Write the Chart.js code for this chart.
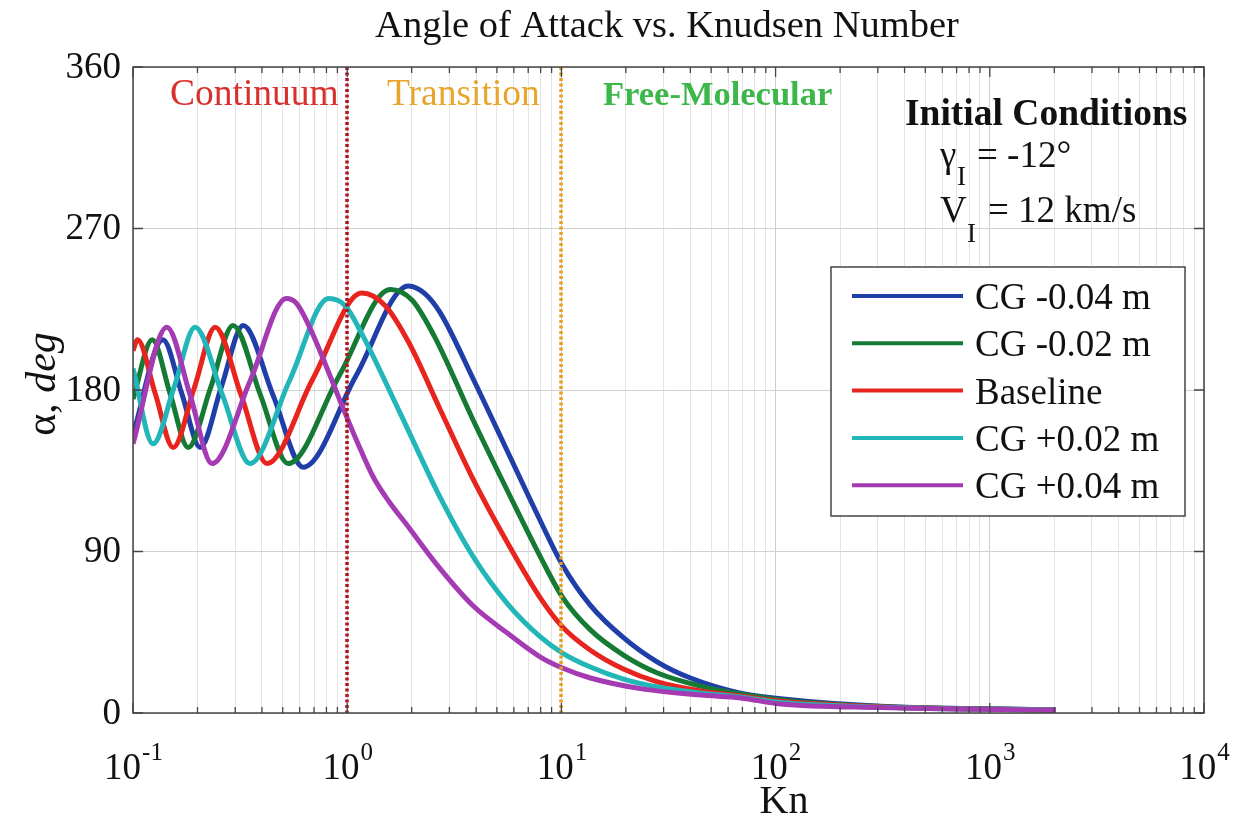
<!DOCTYPE html>
<html>
<head>
<meta charset="utf-8">
<title>Angle of Attack vs. Knudsen Number</title>
<script src="https://cdn.jsdelivr.net/npm/chart.js@4.4.1/dist/chart.umd.min.js"></script>
<style>
  html, body { margin: 0; padding: 0; background: #fff; }
  canvas { display: block; }
</style>
</head>
<body>
<canvas id="aoaChart" width="1239" height="823"></canvas>
<script>
// values: Knudsen number (x) and angle of attack in deg (y)
const knBlue = [0.1, 0.138, 0.169, 0.206, 0.259, 0.327, 0.451, 0.623, 1.10, 1.93, 2.29, 2.72, 3.88, 5.59, 7.98, 10.11, 13.66, 19.49, 28.09, 40.07, 68.6, 105.5, 310, 2034];
const alphaBlue = [155, 208, 178, 148, 182, 216, 177, 137, 188, 238, 234, 223, 186, 146, 107, 82.5, 60, 42, 28.4, 19.5, 11.1, 8.0, 3.8, 1.7];

const knGreen = [0.1, 0.123, 0.149, 0.181, 0.230, 0.293, 0.394, 0.530, 0.918, 1.59, 2.01, 2.55, 3.88, 5.59, 7.98, 10.11, 13.66, 19.49, 28.09, 44.62, 68.6, 105.5, 310, 2034];
const alphaGreen = [175, 208, 178, 148, 181, 216, 177, 139, 188, 236, 230, 210, 163, 124, 87, 64.6, 46.3, 32.3, 22.3, 15.0, 10.6, 7.3, 3.6, 1.7];

const knRed = [0.1, 0.105, 0.127, 0.154, 0.193, 0.242, 0.320, 0.422, 0.69, 1.17, 1.505, 1.928, 2.72, 3.88, 5.59, 7.98, 10.11, 13.66, 19.49, 28.09, 44.62, 68.6, 105.5, 310, 2034];
const alphaRed = [202, 208, 178, 148, 181, 215, 177, 139, 186, 234, 227, 207, 169, 130, 95, 64, 48, 35, 24.5, 17.3, 12.3, 9.5, 6.5, 3.4, 1.6];

const knCyan = [0.1, 0.124, 0.156, 0.195, 0.262, 0.352, 0.537, 0.82, 0.979, 1.163, 1.769, 2.72, 3.88, 5.59, 7.98, 10.11, 13.66, 19.49, 28.09, 44.62, 68.6, 105.5, 310, 2034];
const alphaCyan = [192, 150, 182, 215, 177, 139, 185, 231, 227, 212, 167, 120, 87, 61, 42.4, 33.4, 25.6, 18.9, 14.5, 11.1, 8.9, 5.8, 3.2, 1.6];

const knPurple = [0.1, 0.144, 0.185, 0.234, 0.352, 0.52, 0.578, 0.650, 0.979, 1.114, 1.323, 1.572, 1.866, 2.72, 3.88, 5.59, 7.98, 10.11, 13.66, 23.39, 44.62, 68.6, 105.5, 310, 2034];
const alphaPurple = [150, 215, 177, 139, 185, 231, 228.5, 218, 167, 151, 131.5, 117.6, 106, 80.3, 59.6, 44.6, 31.2, 25.1, 19.5, 13.6, 10.0, 8.4, 5.0, 3.0, 1.5];

const seriesLabels = ["CG -0.04 m", "CG -0.02 m", "Baseline", "CG +0.02 m", "CG +0.04 m"];
const seriesColors = ["#1f3ea8", "#157a34", "#e8241f", "#22b6b9", "#a53bb2"];

const regimeBounds = [1, 10];
const regimeNames = ["Continuum", "Transition", "Free-Molecular"];

const xDecades = [-1, 0, 1, 2, 3, 4];
const yTicks = [0, 90, 180, 270, 360];

const SERIF = '"Liberation Serif", "Times New Roman", serif';

// grid lines at 1..9 x 10^d
const xGridValues = [];
xDecades.forEach((d) => {
  for (let m = 1; m <= 9; m++) {
    if (d === 4 && m > 1) break;
    xGridValues.push(m * Math.pow(10, d));
  }
});
function isDecade(v) {
  const l = Math.log10(v);
  return Math.abs(l - Math.round(l)) < 1e-9;
}

const allKn = [knBlue, knGreen, knRed, knCyan, knPurple];
const allAlpha = [alphaBlue, alphaGreen, alphaRed, alphaCyan, alphaPurple];

const datasets = seriesLabels.map((label, i) => ({
  label,
  data: allKn[i].map((k, j) => ({ x: k, y: allAlpha[i][j] })),
  borderColor: seriesColors[i],
  backgroundColor: seriesColors[i],
  borderWidth: 5,
  pointRadius: 0,
  fill: false,
  cubicInterpolationMode: "monotone",
  order: seriesLabels.length - i, // matlab draws the last series on top
}));

function txt(c, s, x, y, font, color, align) {
  c.font = font;
  c.fillStyle = color || "#111";
  c.textAlign = align || "left";
  c.textBaseline = "alphabetic";
  c.fillText(s, x, y);
}

const decor = {
  id: "decor",
  beforeDraw(chart) {
    const c = chart.ctx;
    c.save();
    c.fillStyle = "#fff";
    c.fillRect(0, 0, chart.width, chart.height);
    c.restore();
  },
  afterDatasetsDraw(chart) {
    const c = chart.ctx;
    const a = chart.chartArea;
    const xs = chart.scales.x;
    const ys = chart.scales.y;
    c.save();

    // regime boundaries
    const regimeColors = ["#b3121c", "#e6a11c"];
    regimeBounds.forEach((kn, i) => {
      const px = Math.round(xs.getPixelForValue(kn));
      c.strokeStyle = regimeColors[i];
      c.lineWidth = 3.5;
      c.setLineDash([3, 2.5]);
      c.beginPath();
      c.moveTo(px, a.top);
      c.lineTo(px, a.bottom);
      c.stroke();
    });
    c.setLineDash([]);

    // box + inward ticks
    c.strokeStyle = "#444";
    c.lineWidth = 1.5;
    c.strokeRect(a.left, a.top, a.right - a.left, a.bottom - a.top);
    c.lineWidth = 1.3;
    xGridValues.forEach((v) => {
      const px = xs.getPixelForValue(v);
      const len = isDecade(v) ? 10 : 6;
      c.beginPath();
      c.moveTo(px, a.bottom);
      c.lineTo(px, a.bottom - len);
      c.moveTo(px, a.top);
      c.lineTo(px, a.top + len);
      c.stroke();
    });
    yTicks.forEach((v) => {
      const py = ys.getPixelForValue(v);
      c.beginPath();
      c.moveTo(a.left, py);
      c.lineTo(a.left + 10, py);
      c.moveTo(a.right, py);
      c.lineTo(a.right - 10, py);
      c.stroke();
    });

    // tick labels
    yTicks.forEach((v) => {
      c.font = "37px " + SERIF;
      c.fillStyle = "#111";
      c.textAlign = "right";
      c.textBaseline = "middle";
      c.fillText(String(v), a.left - 12, ys.getPixelForValue(v) + 1);
    });
    xDecades.forEach((d) => {
      const px = xs.getPixelForValue(Math.pow(10, d));
      c.font = "37px " + SERIF;
      const wb = c.measureText("10").width;
      c.font = "25px " + SERIF;
      const we = c.measureText(String(d)).width;
      const x0 = px - (wb + we) / 2;
      txt(c, "10", x0, a.bottom + 66, "37px " + SERIF);
      txt(c, String(d), x0 + wb + 1, a.bottom + 47, "25px " + SERIF);
    });

    // axis titles and chart title
    txt(c, "Angle of Attack vs. Knudsen Number", 667, 37, "38.5px " + SERIF, "#111", "center");
    txt(c, "Kn", 784, 813, "40px " + SERIF, "#111", "center");
    c.save();
    c.translate(55, 384);
    c.rotate(-Math.PI / 2);
    c.font = "42px " + SERIF;
    const w1 = c.measureText("\u03b1, ").width;
    c.font = "italic 42px " + SERIF;
    const w2 = c.measureText("deg").width;
    txt(c, "\u03b1, ", -(w1 + w2) / 2, 0, "42px " + SERIF);
    txt(c, "deg", -(w1 + w2) / 2 + w1, 0, "italic 42px " + SERIF);
    c.restore();

    // regime names
    txt(c, regimeNames[0], 170, 105, "37.5px " + SERIF, "#d8302c");
    txt(c, regimeNames[1], 387, 105, "37.5px " + SERIF, "#e7a52c");
    txt(c, regimeNames[2], 603, 105, "bold 34.5px " + SERIF, "#3cb84a");

    // initial conditions
    txt(c, "Initial Conditions", 905, 125, "bold 37.5px " + SERIF, "#111");
    txt(c, "\u03b3", 940, 167, "37px " + SERIF, "#111");
    txt(c, "I", 957, 185, "27px " + SERIF, "#111");
    txt(c, "= -12\u00b0", 977, 167, "37px " + SERIF, "#111");
    txt(c, "V", 940, 222, "37px " + SERIF, "#111");
    txt(c, "I", 967, 242, "27px " + SERIF, "#111");
    txt(c, "= 12 km/s", 988, 222, "37px " + SERIF, "#111");

    // legend box
    const lx = 831, ly = 267, lw = 354, lh = 249;
    c.fillStyle = "#fff";
    c.fillRect(lx, ly, lw, lh);
    c.strokeStyle = "#444";
    c.lineWidth = 1.5;
    c.strokeRect(lx, ly, lw, lh);
    chart.data.datasets.forEach((ds, i) => {
      const ry = 296 + i * 47.3;
      c.strokeStyle = ds.borderColor;
      c.lineWidth = 4;
      c.beginPath();
      c.moveTo(852, ry);
      c.lineTo(963, ry);
      c.stroke();
      txt(c, ds.label, 975, ry + 13, "37px " + SERIF, "#111");
    });

    c.restore();
  },
};

const ctx = document.getElementById("aoaChart");
const aoaChart = new Chart(ctx, {
  type: "line",
  data: { datasets },
  options: {
    responsive: false,
    animation: false,
    devicePixelRatio: 1,
    layout: { padding: { left: 133, right: 35, top: 67, bottom: 110 } },
    plugins: {
      legend: { display: false },
      tooltip: { enabled: false },
      title: { display: false },
    },
    scales: {
      x: {
        type: "logarithmic",
        min: 0.1,
        max: 10000,
        border: { display: false },
        ticks: { display: false },
        grid: {
          drawTicks: false,
          lineWidth: 1,
          color: (c) => (c.tick && isDecade(c.tick.value) ? "#cdcdcd" : "#e4e4e4"),
        },
        afterBuildTicks: (scale) => {
          scale.ticks = xGridValues.map((v) => ({ value: v }));
        },
      },
      y: {
        type: "linear",
        min: 0,
        max: 360,
        border: { display: false },
        ticks: { display: false },
        grid: { drawTicks: false, lineWidth: 1, color: "#d2d2d2" },
        afterBuildTicks: (scale) => {
          scale.ticks = yTicks.map((v) => ({ value: v }));
        },
      },
    },
  },
  plugins: [decor],
});
</script>
</body>
</html>
